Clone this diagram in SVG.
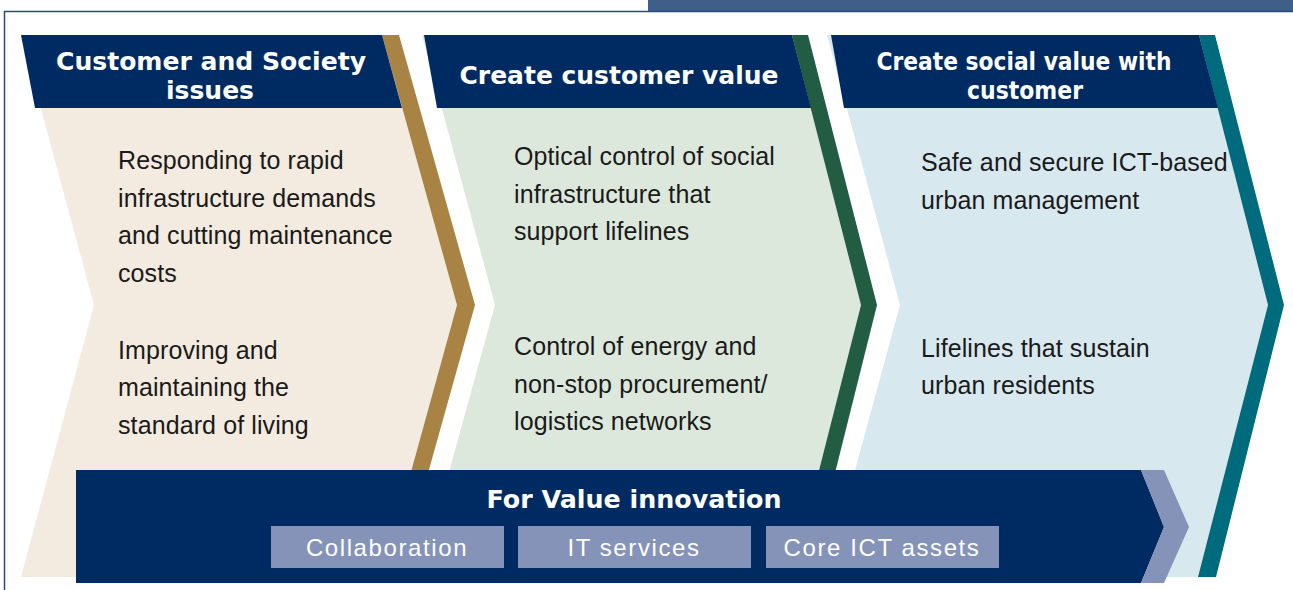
<svg xmlns="http://www.w3.org/2000/svg" width="1293" height="590" viewBox="0 0 1293 590">
<style>
.hdr{fill:#002b62}
.ht{font-family:"DejaVu Sans","Liberation Sans",Arial,sans-serif;font-weight:bold;font-size:25px;fill:#fff;text-anchor:middle}
.bt{font-family:"Liberation Sans",Arial,sans-serif;font-size:25px;letter-spacing:0.1px;fill:#1a1a1a}
.pill{fill:#8593b9}
.pt{font-family:"Liberation Sans",Arial,sans-serif;font-size:24px;letter-spacing:1.6px;fill:#fff;text-anchor:middle}
</style>
<rect x="0" y="0" width="1293" height="590" fill="#fff"/>
<g id="frame">
<rect x="648" y="0" width="645" height="11" fill="#3f5e88"/>
<path d="M4.5 590 V11.5 H1293" fill="none" stroke="#2c4a7c" stroke-width="1.5"/>
</g>
<g id="stage1">
<polygon points="21,35 382,35 457,305 382,577 21,577 94,305" fill="#f3ebdf"/>
<polygon points="382,35 399,35 475,305 399,577 382,577 457,305" fill="#a98343"/>
<polygon class="hdr" points="21,35 382,35 402,108 35,108"/>
<text class="ht" x="211" y="70" textLength="310" lengthAdjust="spacingAndGlyphs">Customer and Society</text>
<text class="ht" x="210" y="99" textLength="88" lengthAdjust="spacingAndGlyphs">issues</text>
<text class="bt" x="118" y="169">Responding to rapid</text>
<text class="bt" x="118" y="207">infrastructure demands</text>
<text class="bt" x="118" y="244">and cutting maintenance</text>
<text class="bt" x="118" y="282">costs</text>
<text class="bt" x="118" y="359">Improving and</text>
<text class="bt" x="118" y="396">maintaining the</text>
<text class="bt" x="118" y="434">standard of living</text>
</g>
<g id="stage2">
<polygon points="422,35 792,35 861,305 792,577 420,577 495,305" fill="#dde8dc"/>
<polygon points="792,35 808,35 877,305 809,577 792,577 861,305" fill="#215c43"/>
<polygon class="hdr" points="424,35 792,35 811,108 437,108"/>
<text class="ht" x="619" y="84" textLength="319" lengthAdjust="spacingAndGlyphs">Create customer value</text>
<text class="bt" x="514" y="165">Optical control of social</text>
<text class="bt" x="514" y="203">infrastructure that</text>
<text class="bt" x="514" y="240">support lifelines</text>
<text class="bt" x="514" y="355">Control of energy and</text>
<text class="bt" x="514" y="393">non-stop procurement/</text>
<text class="bt" x="514" y="430">logistics networks</text>
</g>
<g id="stage3">
<polygon points="827,35 1199,35 1268,305 1198,577 826,577 900,305" fill="#d8e8ef"/>
<polygon points="1199,35 1215,35 1284,305 1216,577 1198,577 1268,305" fill="#006b7c"/>
<polygon class="hdr" points="831,35 1199,35 1218,108 844,108"/>
<text class="ht" x="1024" y="70" textLength="295" lengthAdjust="spacingAndGlyphs">Create social value with</text>
<text class="ht" x="1025" y="99" textLength="116" lengthAdjust="spacingAndGlyphs">customer</text>
<text class="bt" x="921" y="171">Safe and secure ICT-based</text>
<text class="bt" x="921" y="209">urban management</text>
<text class="bt" x="921" y="357">Lifelines that sustain</text>
<text class="bt" x="921" y="394">urban residents</text>
</g>
<g id="innovation">
<polygon points="76,470 1141,470 1164,527 1141,583 76,583" fill="#002b62"/>
<polygon points="1141,470 1164,470 1189,527 1164,583 1141,583 1164,527" fill="#8593b9"/>
<text class="ht" x="634" y="508" textLength="295" lengthAdjust="spacingAndGlyphs">For Value innovation</text>
</g>
<g id="pill-collab">
<rect class="pill" x="271" y="526" width="233" height="42"/>
<text class="pt" x="387" y="556">Collaboration</text>
</g>
<g id="pill-it">
<rect class="pill" x="518" y="526" width="233" height="42"/>
<text class="pt" x="634" y="556">IT services</text>
</g>
<g id="pill-core">
<rect class="pill" x="766" y="526" width="233" height="42"/>
<text class="pt" x="882" y="556">Core ICT assets</text>
</g>
<g id="connectors"/>
</svg>
